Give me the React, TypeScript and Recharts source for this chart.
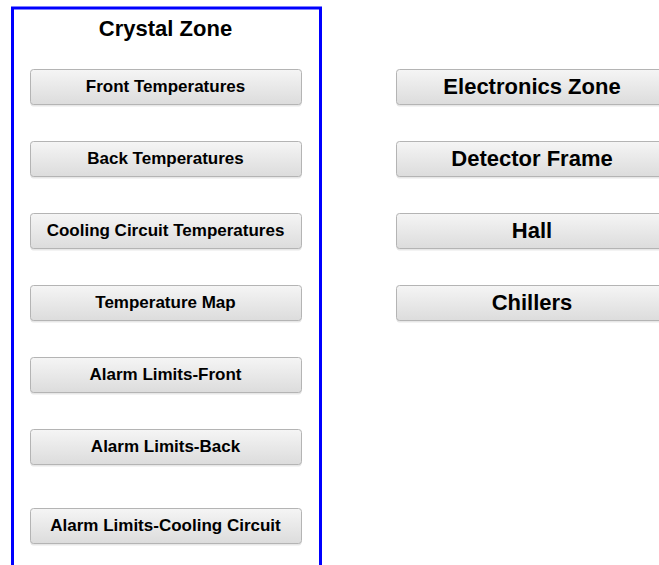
import React from 'react';
import { ScatterChart, Scatter, XAxis, YAxis, Customized } from 'recharts';

// Column index (0 = Crystal Zone panel, 1 = right column), row slot, label
const crystalLabels = [
  'Front Temperatures',
  'Back Temperatures',
  'Cooling Circuit Temperatures',
  'Temperature Map',
  'Alarm Limits-Front',
  'Alarm Limits-Back',
  'Alarm Limits-Cooling Circuit',
];
const crystalRows = [0, 1, 2, 3, 4, 5, 6.1];

const zoneLabels = ['Electronics Zone', 'Detector Frame', 'Hall', 'Chillers'];
const zoneRows = [0, 1, 2, 3];

const titleLabel = 'Crystal Zone';
const titleRow = -0.8;

const crystalData = crystalLabels.map((label, i) => ({ col: 0, row: crystalRows[i], label }));
const zoneData = zoneLabels.map((label, i) => ({ col: 1, row: zoneRows[i], label }));
const titleData = [{ col: 0, row: titleRow, label: titleLabel }];

const FONT = '"Liberation Sans", Arial, sans-serif';

const makeButton = (width: number, fontSize: number) => (props: any) => {
  const { cx, cy, payload } = props;
  const x = Math.round(cx - width / 2) + 0.5;
  const y = Math.round(cy - 18) + 0.5;
  return (
    <g>
      <rect x={x} y={y + 1} width={width} height={36} rx={3} fill="#cfcfcf" opacity={0.5} />
      <rect x={x} y={y} width={width} height={35} rx={3} fill="url(#btnGrad)" stroke="#b4b4b4" strokeWidth={1} />
      <text
        x={cx}
        y={cy - 0.5}
        textAnchor="middle"
        dominantBaseline="central"
        fontFamily={FONT}
        fontWeight="bold"
        fontSize={fontSize}
        fill="#000"
      >
        {payload.label}
      </text>
    </g>
  );
};

const TitleShape = (props: any) => {
  const { cx, cy, payload } = props;
  return (
    <text x={cx} y={cy - 1} textAnchor="middle" dominantBaseline="central" fontFamily={FONT} fontWeight="bold" fontSize={22} fill="#000">
      {payload.label}
    </text>
  );
};

const Panel = () => (
  <g>
    <defs>
      <linearGradient id="btnGrad" x1="0" y1="0" x2="0" y2="1">
        <stop offset="0%" stopColor="#f5f5f5" />
        <stop offset="100%" stopColor="#dcdcdc" />
      </linearGradient>
    </defs>
    <rect x={12.5} y={8} width={308} height={570} fill="none" stroke="#0000ff" strokeWidth={3} />
  </g>
);

export default function App() {
  return (
    <div style={{ position: 'absolute', left: 0, top: 0, width: 659, height: 565, background: '#fff', overflow: 'hidden' }}>
      <ScatterChart width={659} height={565} margin={{ top: 29, right: 127, bottom: 39, left: 165.5 }}>
        <XAxis type="number" dataKey="col" domain={[0, 1]} hide />
        <YAxis type="number" dataKey="row" domain={[-0.8, 6.1]} reversed hide />
        <Customized component={Panel} />
        <Scatter data={titleData} shape={TitleShape} isAnimationActive={false} />
        <Scatter data={crystalData} shape={makeButton(271, 17)} isAnimationActive={false} />
        <Scatter data={zoneData} shape={makeButton(272, 22)} isAnimationActive={false} />
      </ScatterChart>
    </div>
  );
}
